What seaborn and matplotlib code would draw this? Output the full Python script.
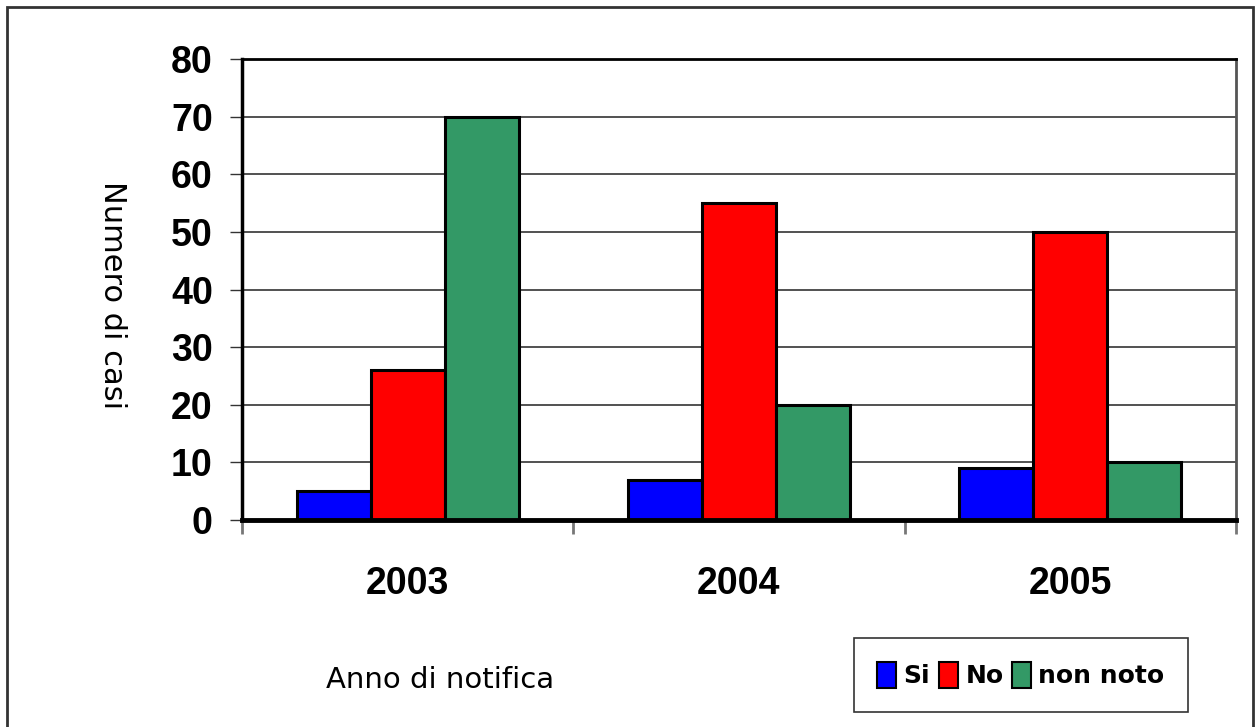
import matplotlib
matplotlib.use("Agg")
import matplotlib.pyplot as plt
from matplotlib.patches import Rectangle
import seaborn as sns
import pandas as pd

# Data
years = ["2003", "2004", "2005"]
categories = ["Si", "No", "non noto"]
si_values = [5, 7, 9]
no_values = [26, 55, 50]
nonnoto_values = [70, 20, 10]
colors = ["#0000FF", "#FF0000", "#339966"]
y_ticks = [0, 10, 20, 30, 40, 50, 60, 70, 80]

rows = []
for i, y in enumerate(years):
    for cat, vals in zip(categories, [si_values, no_values, nonnoto_values]):
        rows.append({"Anno": y, "Risposta": cat, "Casi": vals[i]})
df = pd.DataFrame(rows)

sns.set_theme(style="white")
plt.rcParams["font.family"] = ["DejaVu Sans"]
plt.rcParams["text.color"] = "black"
plt.rcParams["xtick.labelcolor"] = "black"
plt.rcParams["ytick.labelcolor"] = "black"

fig = plt.figure(figsize=(12.56, 7.27), dpi=100)
ax = fig.add_axes([242 / 1256, 1 - 520 / 727, (1236 - 242) / 1256, (520 - 59) / 727])

sns.barplot(data=df, x="Anno", y="Casi", hue="Risposta", order=years,
            hue_order=categories, palette=colors, width=0.67, gap=0,
            edgecolor="black", linewidth=2.2, saturation=1, ax=ax, zorder=3)

# Axes styling
ax.set_xlim(-0.5, 2.5)
ax.set_ylim(0, 80)
ax.set_yticks(y_ticks)
ax.set_yticklabels([str(t) for t in y_ticks], family="Liberation Sans",
                   fontweight="bold", fontsize=27, color="black")
ax.yaxis.grid(True, color="#222222", linewidth=1.1, zorder=0)
ax.set_axisbelow(True)
ax.tick_params(axis="y", direction="out", length=9, width=1.0, color="#333333",
               pad=12, left=True)

ax.set_xticks(range(len(years)))
ax.set_xticklabels(years, family="Liberation Sans", fontweight="bold",
                   fontsize=27, color="black")
ax.tick_params(axis="x", which="major", length=0, pad=33)
ax.set_xticks([-0.5, 0.5, 1.5, 2.5], minor=True)
ax.tick_params(axis="x", which="minor", direction="out", length=10, width=2,
               color="#777777", bottom=True)

for side in ["left", "bottom"]:
    ax.spines[side].set_color("black")
ax.spines["left"].set_linewidth(2.5)
ax.spines["bottom"].set_linewidth(3.5)
ax.spines["bottom"].set_zorder(5)
ax.spines["top"].set_color("black")
ax.spines["top"].set_linewidth(2)
ax.spines["right"].set_color("#555555")
ax.spines["right"].set_linewidth(2)

ax.set_xlabel("")
ax.set_ylabel("")

# Axis titles
fig.text(113 / 1256, 1 - 295 / 727, "Numero di casi", rotation=-90,
         ha="center", va="center", fontsize=22, color="black")
fig.text(440 / 1256, 1 - 680 / 727, "Anno di notifica",
         ha="center", va="center", fontsize=21, color="black")

# Legend
ax.get_legend().remove()
handles = [Rectangle((0, 0), 1, 1, facecolor=c, edgecolor="black", linewidth=1.5)
           for c in colors]
leg = fig.legend(handles, categories, loc="center",
                 bbox_to_anchor=(1021 / 1256, 1 - 675 / 727), ncol=3,
                 frameon=True, fancybox=False, shadow=False,
                 prop={"weight": "bold", "size": 18},
                 handlelength=0.75, handleheight=1.2, handletextpad=0.3,
                 columnspacing=0.35, borderpad=0.95, borderaxespad=0)
leg.get_frame().set_edgecolor("black")
leg.get_frame().set_linewidth(1.2)
for t in leg.get_texts():
    t.set_color("black")

# Outer chart border
fig.add_artist(Rectangle((7 / 1256, -0.02), (1253 - 7) / 1256, 1.02 - 7 / 727,
                         transform=fig.transFigure, fill=False,
                         edgecolor="#333333", linewidth=2))

fig.savefig("out.png", dpi=100, facecolor="white")
